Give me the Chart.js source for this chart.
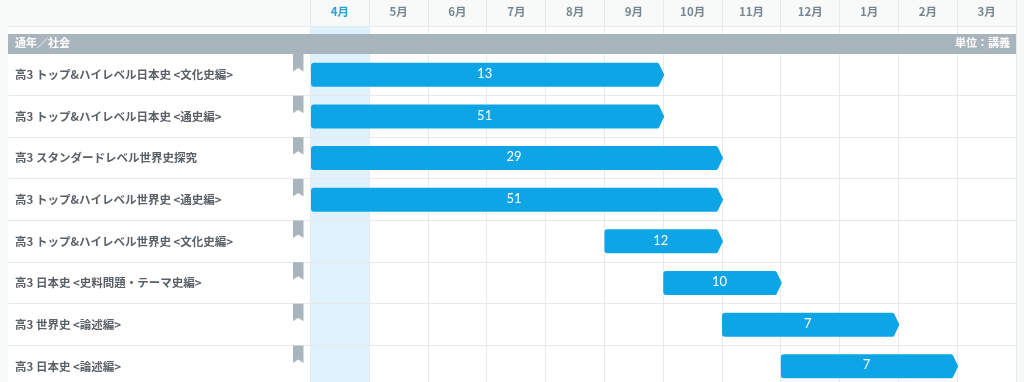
<!DOCTYPE html>
<html lang="ja">
<head>
<meta charset="utf-8">
<title>通年／社会</title>
<script src="https://cdn.jsdelivr.net/npm/chart.js@4"></script>
<style>
  html, body { margin: 0; padding: 0; width: 1024px; height: 382px; overflow: hidden; background: #f8fafa; }
  canvas { display: block; }
</style>
</head>
<body>
<canvas id="canvas" width="1024" height="394"></canvas>
<script>
// 月・講座・期間のデータ
var months = ['4月', '5月', '6月', '7月', '8月', '9月', '10月', '11月', '12月', '1月', '2月', '3月'];
var courses = [
  '高3 トップ&ハイレベル日本史 <文化史編>',
  '高3 トップ&ハイレベル日本史 <通史編>',
  '高3 スタンダードレベル世界史探究',
  '高3 トップ&ハイレベル世界史 <通史編>',
  '高3 トップ&ハイレベル世界史 <文化史編>',
  '高3 日本史 <史料問題・テーマ史編>',
  '高3 世界史 <論述編>',
  '高3 日本史 <論述編>'
];
var startMonth = [0, 0, 0, 0, 5, 6, 7, 8];
var endMonth = [6, 6, 7, 7, 7, 8, 10, 11];
var lessons = [13, 51, 29, 51, 12, 10, 7, 7];
var bandTitle = '通年／社会';
var bandUnit = '単位：講義';

var FONT = '"Noto Sans CJK JP", "Noto Sans", sans-serif';
var LINE = '#e7eaec';
var BAND = '#a9b5bd';
var BAR = '#0ea5e6';
var MARK = '#a9b5bd';

var ranges = [];
for (var i = 0; i < startMonth.length; i++) {
  ranges.push([startMonth[i], endMonth[i]]);
}

// 背景（ヘッダー、4月の列）
var backPlugin = {
  id: 'back',
  beforeDraw: function (chart) {
    var c = chart.ctx, a = chart.chartArea, x = chart.scales.x;
    var x0 = Math.round(x.getPixelForValue(0)), x1 = Math.round(x.getPixelForValue(1));
    c.save();
    c.fillStyle = '#ffffff';
    c.fillRect(8, 26, a.right - 8, chart.height - 26);
    c.fillStyle = '#e0f2fd';
    c.fillRect(x0, 26, x1 - x0, chart.height - 26);
    c.fillStyle = LINE;
    c.fillRect(8, 26, a.right - 8, 1);
    c.restore();
  },
  // 帯としおり
  beforeDatasetsDraw: function (chart) {
    var c = chart.ctx, a = chart.chartArea, y = chart.scales.y;
    c.save();
    c.fillStyle = BAND;
    c.fillRect(8, 34, a.right - 8, 20);
    c.fillStyle = '#ffffff';
    c.font = 'bold 11px ' + FONT;
    c.textBaseline = 'middle';
    c.textAlign = 'left';
    c.fillText(bandTitle, 15, 43);
    c.textAlign = 'right';
    c.fillText(bandUnit, a.right - 6, 43);
    c.fillStyle = MARK;
    for (var i = 0; i < courses.length; i++) {
      var top = y.getPixelForValue(i) - (y.getPixelForValue(1) - y.getPixelForValue(0)) / 2;
      c.beginPath();
      c.moveTo(293, top);
      c.lineTo(303.5, top);
      c.lineTo(303.5, top + 17.5);
      c.lineTo(298.2, top + 14);
      c.lineTo(293, top + 17.5);
      c.closePath();
      c.fill();
    }
    c.restore();
  }
};

// 右端がとがったバーと講義数
var arrowBarPlugin = {
  id: 'arrowBar',
  beforeDatasetDraw: function (chart, args) {
    var c = chart.ctx, bars = args.meta.data;
    c.save();
    for (var i = 0; i < bars.length; i++) {
      var b = bars[i];
      var left = b.base + (startMonth[i] === 0 ? 0.5 : 0);
      var right = b.x + 1;
      var top = b.y - b.height / 2, bottom = b.y + b.height / 2;
      var r = 3;
      c.fillStyle = BAR;
      c.beginPath();
      c.moveTo(left + r, top);
      c.lineTo(right - 7, top);
      c.quadraticCurveTo(right - 5.6, top, right - 5, top + 1.5);
      c.lineTo(right, b.y);
      c.lineTo(right - 5, bottom - 1.5);
      c.quadraticCurveTo(right - 5.6, bottom, right - 7, bottom);
      c.lineTo(left + r, bottom);
      c.quadraticCurveTo(left, bottom, left, bottom - r);
      c.lineTo(left, top + r);
      c.quadraticCurveTo(left, top, left + r, top);
      c.closePath();
      c.fill();
      c.fillStyle = '#ffffff';
      c.font = '13px Lato, ' + FONT;
      c.textAlign = 'center';
      c.textBaseline = 'middle';
      c.fillText(lessons[i], (left + right) / 2 - 3, b.y - 1);
    }
    c.restore();
    return false;
  }
};

var ctx = document.getElementById('canvas').getContext('2d');
window.myBar = new Chart(ctx, {
  type: 'bar',
  data: {
    labels: courses,
    datasets: [{ data: ranges, backgroundColor: BAR, barThickness: 24 }]
  },
  options: {
    indexAxis: 'y',
    responsive: false,
    animation: false,
    layout: { padding: { left: 15, right: 8, top: 0, bottom: 0 } },
    plugins: { legend: { display: false }, tooltip: { enabled: false } },
    scales: {
      x: { type: 'linear', min: 0, max: 12, display: false },
      months: {
        type: 'category',
        axis: 'x',
        position: 'top',
        labels: months,
        offset: true,
        afterFit: function (s) { s.height = 54; },
        border: { display: false },
        grid: { color: LINE, offset: true, tickLength: 54 },
        ticks: {
          padding: -19,
          maxRotation: 0,
          autoSkip: false,
          font: { family: FONT, size: 11.5, weight: 'bold' },
          color: function (c) { return c.index === 0 ? '#2a9fd8' : '#78868f'; }
        }
      },
      y: {
        type: 'category',
        offset: true,
        afterFit: function (s) { s.width = 295.5; },
        border: { display: false },
        grid: { color: LINE, offset: true, tickLength: 302 },
        ticks: {
          crossAlign: 'far',
          padding: 0,
          autoSkip: false,
          font: { family: FONT, size: 11.5, weight: 'bold' },
          color: '#5a6166'
        }
      }
    }
  },
  plugins: [backPlugin, arrowBarPlugin]
});
</script>
</body>
</html>
